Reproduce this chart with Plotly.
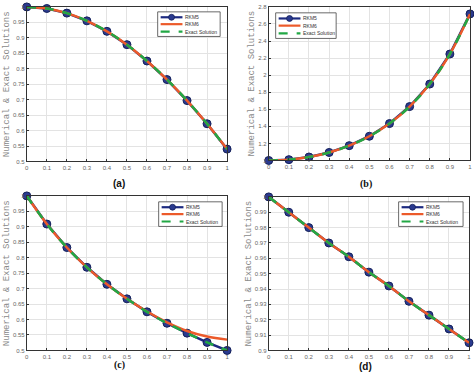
import plotly.graph_objects as go

W, H = 474, 381

# ---------------- data ----------------
x_vals = [0, 0.1, 0.2, 0.3, 0.4, 0.5, 0.6, 0.7, 0.8, 0.9, 1.0]

a_rkm5 = [1.0, 0.995, 0.980, 0.955, 0.921, 0.878, 0.825, 0.765, 0.697, 0.622, 0.540]
a_rkm6 = [1.0, 0.995, 0.980, 0.955, 0.921, 0.878, 0.825, 0.765, 0.697, 0.622, 0.540]
a_exact = [1.0, 0.995, 0.980, 0.955, 0.921, 0.878, 0.825, 0.765, 0.697, 0.622, 0.540]

b_rkm5 = [1.0, 1.010, 1.041, 1.094, 1.174, 1.284, 1.433, 1.632, 1.896, 2.248, 2.718]
b_rkm6 = [1.0, 1.010, 1.041, 1.094, 1.174, 1.284, 1.433, 1.632, 1.896, 2.248, 2.718]
b_exact = [1.0, 1.010, 1.041, 1.094, 1.174, 1.284, 1.433, 1.632, 1.896, 2.248, 2.718]

c_rkm5 = [1.0, 0.909, 0.833, 0.769, 0.714, 0.667, 0.625, 0.588, 0.556, 0.526, 0.500]
c_rkm6 = [1.0, 0.909, 0.833, 0.769, 0.714, 0.667, 0.626, 0.591, 0.563, 0.545, 0.535]
c_exact = [1.0, 0.909, 0.833, 0.769, 0.714, 0.667, 0.625, 0.588, 0.556, 0.526, 0.500]

d_rkm5 = [1.0, 0.990, 0.980, 0.970, 0.961, 0.951, 0.942, 0.932, 0.923, 0.914, 0.905]
d_rkm6 = [1.0, 0.990, 0.980, 0.970, 0.961, 0.951, 0.942, 0.932, 0.923, 0.914, 0.905]
d_exact = [1.0, 0.990, 0.980, 0.970, 0.961, 0.951, 0.942, 0.932, 0.923, 0.914, 0.905]

series_names = ["RKM5", "RKM6", "Exact Solution"]
panel_labels = ["(a)", "(b)", "(c)", "(d)"]
y_title = "Numerical & Exact Solutions"

# ---------------- layout helpers ----------------
def px(x):
    return x / W

def py(y):
    return 1 - y / H

NAVY = "#1c2a80"
NAVY_FILL = "#2a3a8f"
ORANGE = "#ec5a2a"
GREEN = "#22a845"
GRID = "#e3e3e3"
TICKC = "#666666"

panels = [
    dict(data=(a_rkm5, a_rkm6, a_exact), box=(25, 227, 4, 161), yr=[0.5, 1], dt=0.05,
         lab=(118, 183, "Arial"), leg=(157, 220, 9, 34), tx=5),
    dict(data=(b_rkm5, b_rkm6, b_exact), box=(269, 472, 4, 160), yr=[1, 2.8], dt=0.2,
         lab=(367, 184, "Liberation Serif"), leg=(276, 337, 10, 36), tx=252),
    dict(data=(c_rkm5, c_rkm6, c_exact), box=(25, 227, 196, 353), yr=[0.5, 1], dt=0.05,
         lab=(118, 368, "Liberation Serif"), leg=(158, 222, 202, 227), tx=5),
    dict(data=(d_rkm5, d_rkm6, d_exact), box=(269, 471, 197, 353), yr=[0.9, 1], dt=0.01,
         lab=(367, 369, "Arial"), leg=(400, 465, 202, 227), tx=249),
]

fig = go.Figure()
shapes = []
annotations = []

for i, p in enumerate(panels):
    k = "" if i == 0 else str(i + 1)
    xa, ya = "x" + k, "y" + k
    rk5, rk6, ex = p["data"]
    fig.add_trace(go.Scatter(x=x_vals, y=rk5, mode="lines+markers", name=series_names[0],
                             xaxis=xa, yaxis=ya, line=dict(color=NAVY, width=2.5),
                             marker=dict(size=8, color=NAVY_FILL, line=dict(color="#14205a", width=1)),
                             cliponaxis=False, showlegend=False))
    fig.add_trace(go.Scatter(x=x_vals, y=rk6, mode="lines", name=series_names[1],
                             xaxis=xa, yaxis=ya, line=dict(color=ORANGE, width=2.5, shape="spline"),
                             showlegend=False))
    fig.add_trace(go.Scatter(x=x_vals, y=ex, mode="lines", name=series_names[2],
                             xaxis=xa, yaxis=ya, line=dict(color=GREEN, width=2.5, dash="dash", shape="spline"),
                             showlegend=False))
    x0, x1, yt, yb = p["box"]
    axis_common = dict(showgrid=True, gridcolor=GRID, gridwidth=1, zeroline=False,
                       showline=True, linecolor="#333333", linewidth=1, mirror=True,
                       ticks="inside", ticklen=2, tickcolor="#333333",
                       tickfont=dict(size=6, color=TICKC, family="Arial"))
    fig.layout["xaxis" + k] = dict(domain=[px(x0), px(x1)], range=[0, 1], dtick=0.1, tick0=0,
                                   anchor=ya, **axis_common)
    fig.layout["yaxis" + k] = dict(domain=[py(yb), py(yt)], range=p["yr"], dtick=p["dt"],
                                   tick0=p["yr"][0], anchor=xa, **axis_common)

    annotations.append(dict(x=px(p["tx"]), y=py((yt + yb) / 2), xref="paper", yref="paper",
                            text=y_title, textangle=-90, showarrow=False,
                            font=dict(family="Liberation Mono", size=9, color="#8a8a8a"),
                            xanchor="center", yanchor="middle"))
    lx, ly, lf = p["lab"]
    annotations.append(dict(x=px(lx), y=py(ly), xref="paper", yref="paper",
                            text="<b>%s</b>" % panel_labels[i], showarrow=False,
                            font=dict(family=lf, size=10, color="#111111"),
                            xanchor="center", yanchor="middle"))
    L0, L1, T0, T1 = p["leg"]
    shapes.append(dict(type="rect", xref="paper", yref="paper", x0=px(L0), x1=px(L1),
                       y0=py(T1), y1=py(T0), fillcolor="white",
                       line=dict(color="#444444", width=0.8), layer="above"))
    rows = [T0 + (T1 - T0) * f for f in (0.22, 0.5, 0.8)]
    sx0, sx1 = L0 + 3, L0 + 25
    colors = [NAVY, ORANGE, GREEN]
    dashes = ["solid", "solid", "dash"]
    for j in range(3):
        shapes.append(dict(type="line", xref="paper", yref="paper", x0=px(sx0), x1=px(sx1),
                           y0=py(rows[j]), y1=py(rows[j]),
                           line=dict(color=colors[j], width=2.2, dash=dashes[j]), layer="above"))
        annotations.append(dict(x=px(sx1 + 1), y=py(rows[j]), xref="paper", yref="paper",
                                text=series_names[j], showarrow=False,
                                font=dict(family="Arial", size=5, color="#333333"),
                                xanchor="left", yanchor="middle"))
    cx = (sx0 + sx1) / 2
    shapes.append(dict(type="circle", xref="paper", yref="paper", x0=px(cx - 3), x1=px(cx + 3),
                       y0=py(rows[0] + 3), y1=py(rows[0] - 3), fillcolor=NAVY_FILL,
                       line=dict(color="#14205a", width=0.8), layer="above"))

fig.update_layout(width=W, height=H, margin=dict(l=0, r=0, t=0, b=0),
                  paper_bgcolor="white", plot_bgcolor="white",
                  shapes=shapes, annotations=annotations, showlegend=False)

fig.write_html("out.html", config={"displayModeBar": False, "staticPlot": True},
               post_script="document.body.style.margin='0px';document.body.style.overflow='hidden';")
